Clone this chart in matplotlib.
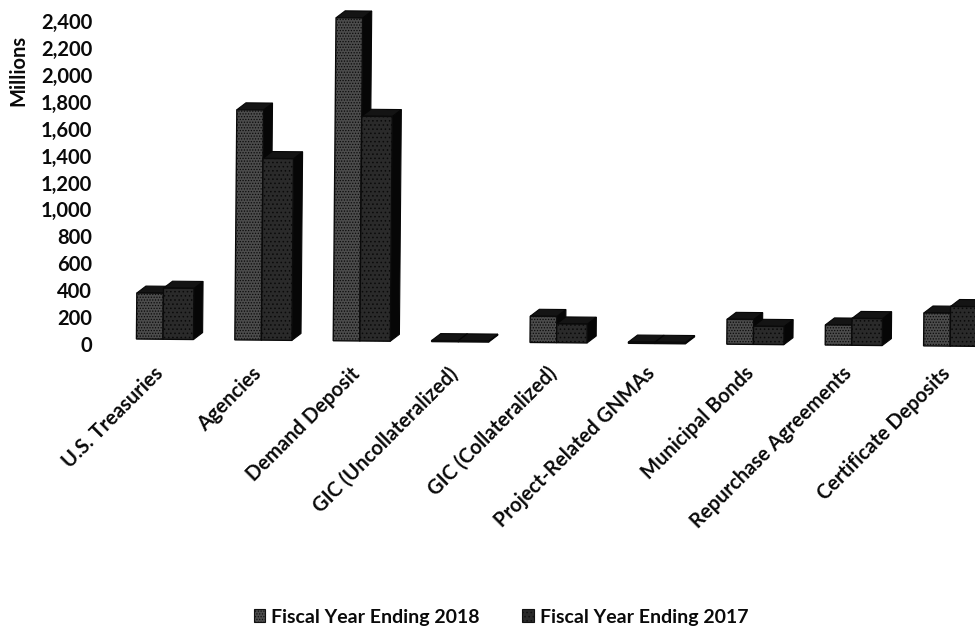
import matplotlib
matplotlib.use("Agg")
import matplotlib.pyplot as plt
from matplotlib.patches import Polygon, Patch
from matplotlib.transforms import Affine2D, ScaledTranslation

categories = ["U.S. Treasuries", "Agencies", "Demand Deposit", "GIC (Uncollateralized)",
              "GIC (Collateralized)", "Project-Related GNMAs", "Municipal Bonds",
              "Repurchase Agreements", "Certificate Deposits"]
fy2018 = [342, 1710, 2400, 8, 195, 10, 185, 150, 245]
fy2017 = [380, 1350, 1670, 8, 140, 10, 135, 200, 295]
yticks = list(range(0, 2401, 200))
series_names = ["Fiscal Year Ending 2018", "Fiscal Year Ending 2017"]

plt.rcParams["font.family"] = "Lato"
plt.rcParams["hatch.linewidth"] = 0.6
plt.rcParams["hatch.color"] = "#e8e8e8"
W, H = 975, 630
fig = plt.figure(figsize=(W / 100, H / 100), dpi=100)
ax = fig.add_axes([120 / W, (H - 344) / H, (W - 120) / W, 323 / H])
ax.set_ylim(0, 2400)
ax.set_xlim((120 - 163) / 98.4, (975 - 163) / 98.4)
for s in ax.spines.values():
    s.set_visible(False)

BW18, BW17, DX, DY, BASE = 0.27, 0.31, 0.092, 52, 37
rot = ax.transData + Affine2D().rotate_deg_around(137, H - 339, -0.5)
COL18, COL17 = "#4c4c4c", "#2a2a2a"


def bar3d(x0, w, v, col, dots):
    y0, y1 = BASE, BASE + v
    x1 = x0 + w
    side = [(x1, y0), (x1 + DX, y0 + DY), (x1 + DX, y1 + DY), (x1, y1)]
    top = [(x0, y1), (x0 + DX, y1 + DY), (x1 + DX, y1 + DY), (x1, y1)]
    front = [(x0, y0), (x1, y0), (x1, y1), (x0, y1)]
    ax.add_patch(Polygon(side, closed=True, fc="#060606", ec="#060606", lw=.8, transform=rot, clip_on=False))
    ax.add_patch(Polygon(top, closed=True, fc="#141414", ec="#060606", lw=.8, transform=rot, clip_on=False))
    ax.add_patch(Polygon(front, closed=True, fc=col, ec="#0a0a0a", lw=1.0, hatch=dots, transform=rot, clip_on=False))


for i, (a, b) in enumerate(zip(fy2018, fy2017)):
    bar3d(i - BW18, BW18, a, COL18, "......")
    bar3d(i, BW17, b, COL17, "....")

ax.set_yticks(yticks)
ax.set_yticklabels([f"{t:,}" for t in yticks], fontsize=14.5, fontweight="bold", color="#0a0a0a")
ax.tick_params(axis="y", length=0, pad=20)
ax.set_xticks(range(len(categories)))
ax.set_xticklabels(categories, rotation=45, ha="right", va="top", rotation_mode="anchor",
                   fontsize=14.5, fontweight="bold", color="#0a0a0a")
ax.tick_params(axis="x", length=0, pad=14)
shift = ScaledTranslation(-10 / 100, 0, fig.dpi_scale_trans)
for lab in ax.get_xticklabels():
    lab.set_transform(lab.get_transform() + shift)
fig.text(18 / W, 1 - 70 / H, "Millions", rotation=90, ha="center", va="center",
         fontsize=14.5, fontweight="bold", color="#0a0a0a")

handles = [Patch(fc=COL18, ec="#111111", hatch="......", lw=.8),
           Patch(fc=COL17, ec="#111111", hatch="....", lw=.8)]
fig.legend(handles, series_names, loc="center", bbox_to_anchor=(501 / W, 1 - 617 / H), ncol=2,
           frameon=False, prop={"size": 14, "weight": "bold"}, handlelength=0.6, handleheight=0.6,
           handletextpad=0.3, columnspacing=2.2, labelcolor="#0a0a0a")
fig.savefig("out.png", dpi=100)
